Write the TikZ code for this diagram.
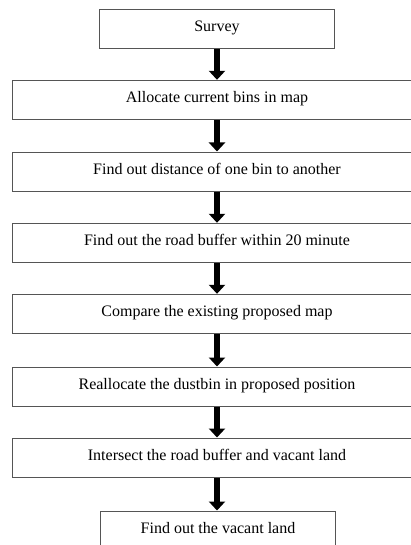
\documentclass[tikz,border=0pt]{standalone}
\usepackage{fontspec}
\setmainfont{Liberation Serif}
\usetikzlibrary{arrows.meta}
\definecolor{boxline}{RGB}{85,85,85}
\tikzset{
  stepbox/.style={draw=boxline, line width=1pt, fill=white, anchor=north,
    minimum height=39pt, inner sep=0pt, text height=11pt, text depth=6pt,
    font=\fontsize{16}{19}\selectfont},
  widebox/.style={stepbox, minimum width=410pt},
  narrowbox/.style={stepbox, minimum width=235pt},
  flowarrow/.style={line width=6.5pt, -{Triangle[width=16pt,length=9pt]}, black, shorten >=0.5pt}
}
\begin{document}
\begin{tikzpicture}[x=1pt,y=-1pt]
\useasboundingbox (0,0) rectangle (411,545);
\clip (0,0) rectangle (411,545);
\fill[white] (0,0) rectangle (411,545);
\node[narrowbox] (s1) at (217,9.3) {Survey};
\node[widebox] (s2) at (217,80.3) {Allocate current bins in map};
\node[widebox] (s3) at (217,152) {Find out distance of one bin to another};
\node[widebox] (s4) at (217,223.3) {Find out the road buffer within 20 minute};
\node[widebox] (s5) at (217,294.3) {Compare the existing proposed map};
\node[widebox] (s6) at (217,367) {Reallocate the dustbin in proposed position};
\node[widebox] (s7) at (217,438) {Intersect the road buffer and vacant land};
\node[narrowbox] (s8) at (218,511) {Find out the vacant land};
\draw[flowarrow] (s1.south) -- (s2.north);
\draw[flowarrow] (s2.south) -- (s3.north);
\draw[flowarrow] (s3.south) -- (s4.north);
\draw[flowarrow] (s4.south) -- (s5.north);
\draw[flowarrow] (s5.south) -- (s6.north);
\draw[flowarrow] (s6.south) -- (s7.north);
\draw[flowarrow] (s7.south) -- (s7.south |- s8.north);
\end{tikzpicture}
\end{document}
